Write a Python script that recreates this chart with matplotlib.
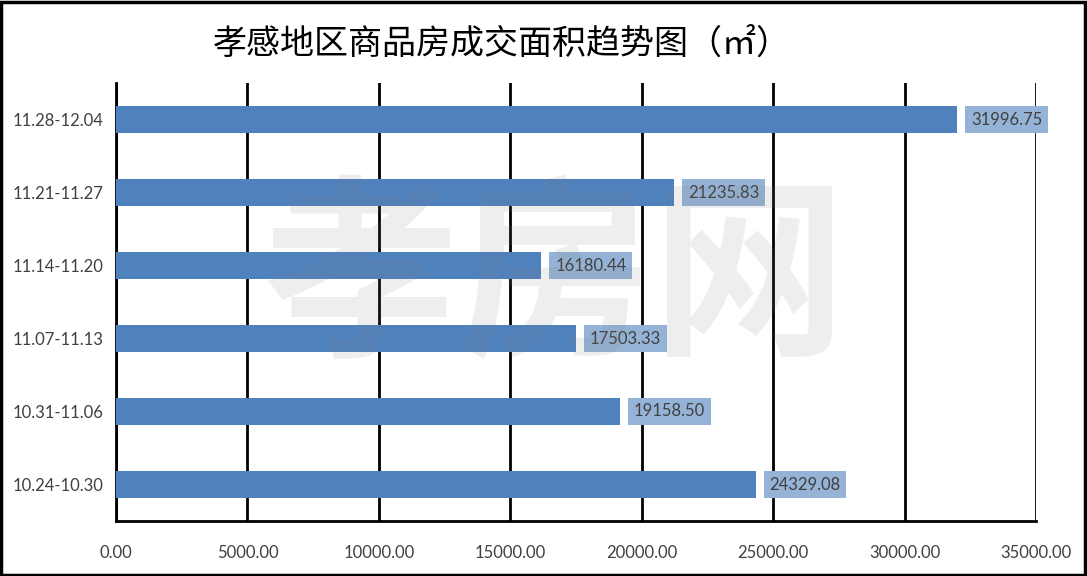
import matplotlib
matplotlib.use('Agg')
import matplotlib.pyplot as plt
import numpy as np

plt.rcParams['font.family'] = ['Lato', 'Noto Sans CJK SC', 'DejaVu Sans']

weeks = ['10.24-10.30', '10.31-11.06', '11.07-11.13', '11.14-11.20', '11.21-11.27', '11.28-12.04']
area = [24329.08, 19158.50, 17503.33, 16180.44, 21235.83, 31996.75]
xticks = [0, 5000, 10000, 15000, 20000, 25000, 30000, 35000]

bar_color = '#4F81BD'
label_bg = '#95B3D7'
text_color = '#404040'

fig = plt.figure(figsize=(10.87, 5.76), dpi=100)
ax = fig.add_axes([116 / 1087, 55 / 576, 920 / 1087, 438 / 576])

y = np.arange(len(weeks))
ax.barh(y, area, height=0.36, color=bar_color, zorder=3)

for yi, v in zip(y, area):
    ax.annotate(f'{v:.2f}', xy=(v, yi), xytext=(10, 0), textcoords='offset points',
                ha='left', va='center', fontsize=12, color=text_color,
                bbox=dict(boxstyle='square,pad=0.35', fc=label_bg, ec='none'), zorder=4)

ax.set_xlim(0, 35000)
ax.set_ylim(-0.5, len(weeks) - 0.5)
ax.set_yticks(y)
ax.set_yticklabels(weeks, fontsize=12, color=text_color)
ax.set_xticks(xticks)
ax.set_xticklabels([f'{t:.2f}' for t in xticks], fontsize=12, color=text_color)
ax.tick_params(axis='both', length=0)
ax.tick_params(axis='x', pad=17)
ax.tick_params(axis='y', pad=9)

ax.grid(axis='x', color='black', linewidth=2, zorder=0)
for s in ['top', 'right']:
    ax.spines[s].set_visible(False)
for s in ['left', 'bottom']:
    ax.spines[s].set_linewidth(2)
    ax.spines[s].set_color('black')

fig.text(502 / 1087, 1 - 45 / 576, '孝感地区商品房成交面积趋势图（㎡）', ha='center', va='center',
         fontsize=24.5, family=['Noto Sans CJK SC', 'DejaVu Sans'], color='black')

# watermark
fig.text(555 / 1087, 1 - 283 / 576, '孝房网', ha='center', va='center', fontsize=140,
         fontweight='bold', family=['Noto Sans CJK SC'], color='#808080', alpha=0.13, zorder=10)

# outer border
fig.patches.append(plt.Rectangle((0.001, 0.002), 0.997, 0.995, transform=fig.transFigure,
                                 fill=False, ec='black', lw=2.5))

fig.savefig('out.png', dpi=100)
